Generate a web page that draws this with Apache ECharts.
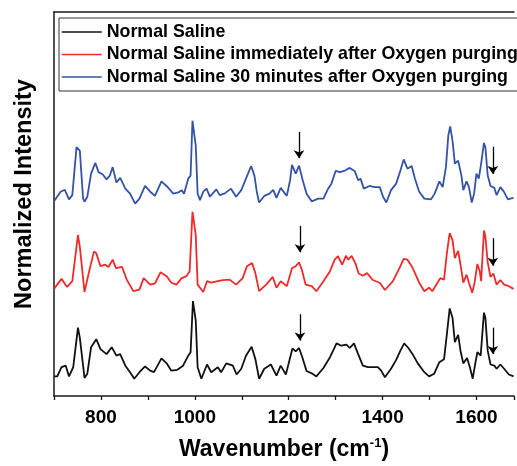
<!DOCTYPE html>
<html>
<head>
<meta charset="utf-8">
<script src="https://cdn.jsdelivr.net/npm/echarts@6/dist/echarts.min.js"></script>
<style>
html,body{margin:0;padding:0;background:#fff;}
#chart{width:517px;height:466px;}
</style>
</head>
<body>
<div id="chart"></div>
<script>
// Series names
var seriesNames = [
  'Normal Saline',
  'Normal Saline immediately after Oxygen purging',
  'Normal Saline 30 minutes after Oxygen purging'
];
var seriesColors = ['#111111', '#f02a2a', '#3553a6'];

// Normal Saline (black) – wavenumber / offset normalized intensity
var blackX = [700,707,716,725,732,741,751,755,765,771,779,790,799,812,823,833,841,852,862,871,882,894,905,913,929,940,950,962,975,986,991,996,999,1002,1006,1014,1026,1035,1049,1056,1067,1081,1089,1099,1109,1121,1129,1137,1148,1162,1174,1183,1194,1208,1215,1222,1229,1238,1249,1259,1274,1288,1302,1312,1323,1330,1339,1348,1358,1369,1379,1390,1397,1405,1418,1429,1438,1446,1455,1464,1475,1489,1499,1510,1521,1531,1537,1543,1549,1554,1561,1566,1572,1580,1586,1592,1598,1602,1609,1616,1619,1624,1630,1638,1643,1651,1659,1669,1679];
var blackY = [0.51,0.51,0.75,0.79,0.51,0.75,1.78,1.52,0.47,0.58,1.27,1.48,1.22,1.09,1.27,1.05,1.09,0.79,0.62,0.45,0.62,0.77,0.66,0.62,0.98,0.85,0.66,0.68,0.79,1.05,1.14,2.47,2.47,1.96,0.75,0.45,0.82,0.62,0.75,0.62,0.85,0.79,0.56,0.71,1.05,1.28,0.96,0.45,0.71,0.82,0.53,0.79,0.56,1.24,1.16,1.25,1.01,0.65,0.59,0.51,0.73,1.01,1.37,1.31,1.34,1.25,1.37,1.09,0.79,0.75,0.75,0.75,0.66,0.49,0.71,0.94,1.18,1.37,1.25,1.09,0.85,0.62,0.51,0.58,0.88,0.96,1.61,2.28,2.04,1.40,1.59,1.18,0.85,0.99,0.75,0.45,0.88,1.14,1.05,2.17,2.04,1.18,0.82,0.79,0.71,0.82,0.71,0.56,0.51];

// Immediately after O2 purging (red)
var redX = [700,716,728,739,751,755,765,774,785,790,799,809,816,825,832,845,855,869,882,891,905,915,927,940,950,961,972,982,989,995,998,1002,1006,1018,1026,1035,1049,1060,1074,1088,1102,1111,1122,1129,1137,1152,1166,1174,1183,1196,1207,1215,1222,1228,1236,1249,1259,1274,1288,1298,1305,1314,1322,1327,1334,1342,1349,1358,1367,1379,1394,1405,1422,1436,1445,1453,1462,1469,1478,1489,1499,1506,1517,1523,1531,1537,1543,1549,1554,1561,1566,1572,1579,1584,1591,1596,1602,1607,1610,1616,1619,1624,1630,1636,1643,1651,1659,1669,1679];
var redY = [2.79,3.05,2.84,2.99,4.19,3.89,2.71,3.20,3.76,3.72,3.38,3.42,3.36,3.55,3.33,3.36,3.03,2.73,2.77,3.07,2.90,2.93,3.22,3.12,2.95,2.90,3.07,3.12,3.25,4.80,4.82,4.19,2.90,2.71,2.99,2.95,2.99,3.02,3.03,2.90,3.07,3.38,3.46,3.20,2.73,2.90,3.10,2.82,2.99,2.86,3.33,3.38,3.48,3.29,2.90,2.86,2.73,2.99,3.25,3.55,3.64,3.42,3.65,3.55,3.65,3.46,3.19,3.13,3.20,3.02,2.95,2.76,2.99,3.33,3.57,3.55,3.38,3.20,2.95,2.73,2.82,2.73,2.95,3.07,3.03,3.72,4.24,4.06,3.59,3.78,3.42,2.95,3.16,2.95,2.69,2.95,3.44,3.25,2.99,4.31,4.15,3.48,3.10,3.19,2.90,3.02,2.90,2.86,2.79];

// 30 minutes after O2 purging (blue)
var blueX = [700,714,723,732,739,748,751,755,762,765,771,779,788,795,804,812,819,825,833,841,852,862,873,882,894,905,915,929,943,954,965,972,977,986,991,995,998,1002,1006,1011,1018,1025,1032,1046,1053,1063,1077,1088,1099,1109,1120,1127,1132,1137,1148,1159,1167,1174,1183,1196,1203,1207,1210,1215,1222,1229,1238,1249,1263,1274,1284,1291,1300,1309,1320,1330,1341,1348,1353,1360,1372,1383,1394,1401,1408,1418,1429,1438,1445,1453,1462,1469,1478,1489,1503,1511,1521,1528,1535,1540,1544,1549,1554,1561,1568,1572,1579,1584,1590,1595,1600,1605,1610,1616,1619,1624,1630,1638,1643,1651,1658,1667,1672,1679];
var blueY = [5.07,5.32,5.37,5.12,5.23,6.48,6.52,6.39,5.14,5.06,5.19,5.79,6.07,5.83,5.77,5.64,5.74,5.96,5.56,5.68,5.40,5.27,5.01,5.14,5.47,5.32,5.21,5.59,5.43,5.27,5.30,5.36,5.27,5.66,5.74,7.17,7.21,6.52,5.27,5.10,5.32,5.40,5.19,5.38,5.23,5.27,5.40,5.19,5.36,5.66,5.99,5.74,5.32,5.04,5.21,5.27,5.37,5.16,5.42,5.21,5.62,6.02,6.05,5.79,6.00,5.66,5.27,5.07,5.14,5.14,5.40,5.53,5.86,5.83,5.87,5.94,5.85,5.62,5.66,5.40,5.47,5.44,5.44,5.19,5.04,5.36,5.53,5.87,6.16,5.92,5.99,5.66,5.32,5.14,5.12,5.27,5.59,5.44,5.96,6.78,7.02,6.65,6.05,6.13,5.74,5.36,5.59,5.44,5.04,5.27,5.79,5.66,6.05,6.59,6.48,5.74,5.47,5.42,5.23,5.44,5.33,5.12,5.14,5.16];

// Arrow annotations (wavenumber, top, tip) per series
var blackArrowX = [1224, 1635], blackArrowTop = [2.13, 1.78], blackArrowBottom = [1.34, 0.99];
var redArrowX = [1224, 1635], redArrowTop = [4.43, 4.11], redArrowBottom = [3.64, 3.29];
var blueArrowX = [1222, 1635], blueArrowTop = [6.88, 6.49], blueArrowBottom = [6.09, 5.68];

// Axis
var xMin = 700, xMax = 1680, yMin = 0, yMax = 10;

var ARROW_SIZE = 8;
var GRID_TOP = 12, GRID_BOTTOM = 67, CHART_H = 466;
// arrow symbol is centred on its end point; lift it so the tip sits on the reading
var tipLift = (ARROW_SIZE / 2) * (yMax - yMin) / (CHART_H - GRID_TOP - GRID_BOTTOM);

function zip(xs, ys) { return xs.map(function (x, i) { return [x, ys[i]]; }); }
function arrows(xs, tops, bottoms) {
  return xs.map(function (x, i) {
    return [{ coord: [x, tops[i]] }, { coord: [x, bottoms[i] + tipLift] }];
  });
}

var FONT = "'Liberation Sans', Arial, sans-serif";
var seriesData = [zip(blackX, blackY), zip(redX, redY), zip(blueX, blueY)];
var arrowData = [
  arrows(blackArrowX, blackArrowTop, blackArrowBottom),
  arrows(redArrowX, redArrowTop, redArrowBottom),
  arrows(blueArrowX, blueArrowTop, blueArrowBottom)
];

var chart = echarts.init(document.getElementById('chart'), null, { renderer: 'canvas' });
chart.setOption({
  animation: false,
  backgroundColor: '#ffffff',
  grid: { left: 54, right: 0, top: GRID_TOP, bottom: GRID_BOTTOM, containLabel: false },
  legend: {
    orient: 'vertical',
    left: 59, top: 18,
    padding: [5, 60, 5, 2],
    itemGap: 4.5,
    itemWidth: 40, itemHeight: 18,
    borderColor: '#333', borderWidth: 1,
    itemStyle: { opacity: 0 },
    lineStyle: { width: 1.5 },
    data: seriesNames,
    textStyle: { fontFamily: FONT, fontWeight: 'bold', fontSize: 17.8, color: '#000', lineHeight: 18 }
  },
  xAxis: [{
    type: 'value', min: xMin, max: xMax, interval: 100,
    axisLine: { show: true, onZero: false, lineStyle: { color: '#1a1a1a', width: 1.5 } },
    axisTick: { show: true, length: 4, inside: false, lineStyle: { color: '#1a1a1a', width: 1.3 } },
    axisLabel: {
      margin: 12, fontFamily: FONT, fontWeight: 'bold', fontSize: 19, color: '#000',
      formatter: function (v) { return v % 200 === 0 ? String(v) : ''; }
    },
    splitLine: { show: false },
    name: '{a|Wavenumber (cm}{s|-1}{a|)}',
    nameLocation: 'middle', nameGap: 41,
    nameTextStyle: {
      rich: {
        a: { fontFamily: FONT, fontWeight: 'bold', fontSize: 23, color: '#000' },
        s: { fontFamily: FONT, fontWeight: 'bold', fontSize: 13, color: '#000', padding: [0, 0, 12, 0] }
      }
    }
  }, {
    type: 'value', position: 'top', min: xMin, max: xMax,
    axisLine: { show: true, onZero: false, lineStyle: { color: '#1a1a1a', width: 1.5 } },
    axisTick: { show: false }, axisLabel: { show: false }, splitLine: { show: false }
  }],
  yAxis: {
    type: 'value', min: yMin, max: yMax,
    axisLine: { show: true, onZero: false, lineStyle: { color: '#1a1a1a', width: 1.5 } },
    axisTick: { show: false }, axisLabel: { show: false }, splitLine: { show: false }
  },
  graphic: [{
    type: 'text', x: 25, y: 194, rotation: Math.PI / 2,
    style: {
      text: 'Normalized Intensity', fill: '#000',
      font: "bold 23.5px 'Liberation Sans', Arial, sans-serif",
      align: 'center', verticalAlign: 'middle'
    }
  }],
  series: seriesNames.map(function (name, i) {
    return {
      name: name, type: 'line', xAxisIndex: 0, yAxisIndex: 0,
      data: seriesData[i], showSymbol: false, symbol: 'none', smooth: false,
      lineStyle: { color: seriesColors[i], width: 1.8 },
      itemStyle: { color: seriesColors[i] },
      markLine: {
        silent: true, symbol: ['none', 'arrow'], symbolSize: ARROW_SIZE,
        label: { show: false },
        lineStyle: { color: '#000', width: 1.3, type: 'solid' },
        itemStyle: { color: '#000' },
        data: arrowData[i]
      }
    };
  })
});
</script>
</body>
</html>
